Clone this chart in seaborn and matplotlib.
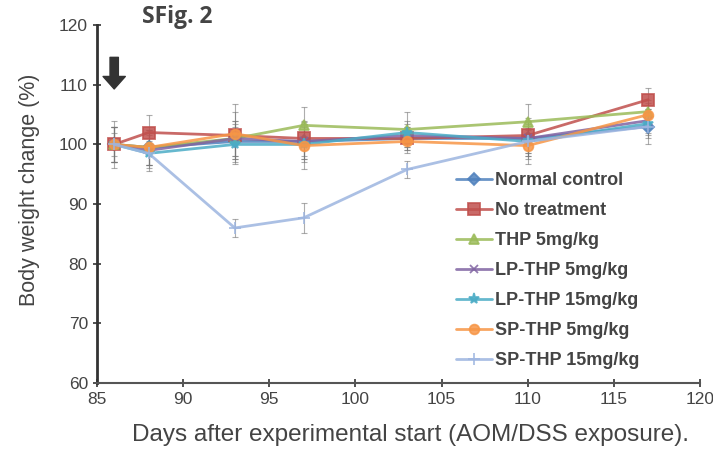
import matplotlib
matplotlib.use("Agg")
import matplotlib.pyplot as plt
import seaborn as sns
import pandas as pd

days = [86, 88, 93, 97, 103, 110, 117]
groups = ["Normal control", "No treatment", "THP 5mg/kg", "LP-THP 5mg/kg",
          "LP-THP 15mg/kg", "SP-THP 5mg/kg", "SP-THP 15mg/kg"]
normal_control = [100, 99.5, 100.5, 100.5, 101.0, 101.0, 103.0]
no_treatment = [100, 102.0, 101.5, 101.0, 101.0, 101.5, 107.5]
thp_5 = [100, 99.5, 101.0, 103.2, 102.5, 103.8, 105.5]
lp_thp_5 = [100, 99.0, 101.0, 100.5, 101.5, 101.0, 104.0]
lp_thp_15 = [100, 98.5, 100.0, 100.0, 102.0, 100.5, 103.5]
sp_thp_5 = [100, 99.5, 101.8, 99.8, 100.5, 99.8, 105.0]
sp_thp_15 = [100, 98.5, 86.0, 87.7, 95.8, 100.5, 103.0]

err_normal = [4, 3, 3, 3, 2, 3, 3]
err_no_treat = [3, 3, 4, 3, 2, 3, 2]
err_thp5 = [3, 3, 3, 3, 3, 3, 2]
err_lp5 = [3, 3, 3, 3, 2, 3, 2]
err_lp15 = [3, 3, 3, 3, 2, 3, 2]
err_sp5 = [3, 3, 5, 4, 2, 3, 2]
err_sp15 = [2, 2, 1.5, 2.5, 1.5, 2, 2]

values = [normal_control, no_treatment, thp_5, lp_thp_5, lp_thp_15, sp_thp_5, sp_thp_15]
errors = [err_normal, err_no_treat, err_thp5, err_lp5, err_lp15, err_sp5, err_sp15]
colors = ["#4F81BD", "#C0504D", "#9BBB59", "#8064A2", "#4BACC6", "#F79646", "#9DB5E0"]
markers = ["D", "s", "^", "x", "*", "o", "+"]
msizes = [6, 8, 7, 6, 8, 7, 8]

sns.set_style("white")
plt.rcParams["font.family"] = ["Liberation Sans", "DejaVu Sans"]

fig = plt.figure(figsize=(7.13, 4.53), dpi=100)
ax = fig.add_axes([0.136, 0.1545, 0.8457, 0.790])

for vals, errs in zip(values, errors):
    ax.errorbar(days, vals, yerr=errs, fmt="none", ecolor="#777777",
                elinewidth=0.8, capsize=2.5, capthick=0.8, alpha=0.6, zorder=1)

for g, vals, c, m, ms in zip(groups, values, colors, markers, msizes):
    d = pd.DataFrame({"day": days, "value": vals})
    sns.lineplot(data=d, x="day", y="value", color=c, marker=m, markersize=ms,
                 linewidth=2, alpha=0.85, label=g, ax=ax, zorder=2,
                 markeredgecolor=c, markeredgewidth=1.3)

ax.annotate("", xy=(86, 109.3), xytext=(86, 114.6),
            arrowprops=dict(width=6, headwidth=16, headlength=9,
                            facecolor="#333333", edgecolor="#333333"))

ax.set_xlim(85, 120)
ax.set_ylim(60, 120)
ax.set_xticks(range(85, 121, 5))
ax.set_yticks(range(60, 121, 10))
ax.tick_params(axis="both", labelsize=12.5, colors="#333333", direction="inout",
               length=6, width=1.2, left=True, bottom=True)
for lab in ax.get_xticklabels() + ax.get_yticklabels():
    lab.set_color("#444444")
sns.despine(ax=ax)
ax.spines["left"].set_linewidth(2)
ax.spines["left"].set_color("#333333")
ax.spines["bottom"].set_linewidth(1.5)
ax.spines["bottom"].set_color("#555555")

ax.set_xlabel("Days after experimental start (AOM/DSS exposure).", fontsize=17.5,
              color="#444444")
ax.xaxis.set_label_coords(0.52, -0.115)
ax.set_ylabel("Body weight change (%)", fontsize=15.5, color="#444444", labelpad=6)
ax.yaxis.set_label_coords(-0.095, 0.54)

fig.text(0.199, 0.962, "SFig. 2", fontsize=16.5, fontweight="bold", color="#444444",
         ha="left", va="center", family=["Open Sans", "DejaVu Sans"])

handles, labels = ax.get_legend_handles_labels()
leg = ax.legend(handles, labels, loc="upper left", bbox_to_anchor=(0.595, 0.59),
                frameon=False, fontsize=13, handlelength=2.0, handletextpad=0.2,
                labelspacing=0.72, borderaxespad=0, borderpad=0)
for t in leg.get_texts():
    t.set_color("#444444")
    t.set_fontweight("bold")

fig.savefig("out.png", dpi=100)
